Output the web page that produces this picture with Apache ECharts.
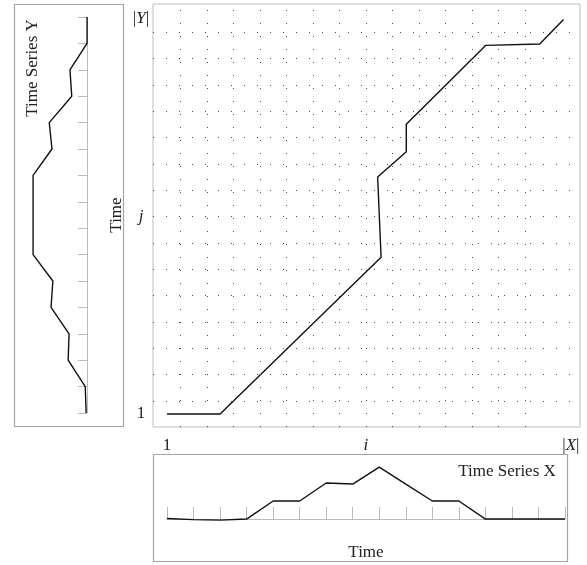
<!DOCTYPE html>
<html>
<head>
<meta charset="utf-8">
<script src="https://cdn.jsdelivr.net/npm/echarts@6/dist/echarts.min.js"></script>
<style>
html,body{margin:0;padding:0;background:#fff;}
#c{width:587px;height:565px;}
</style>
</head>
<body>
<div id="c"></div>
<script>
// ---- data ----
var timeIndex = [1,2,3,4,5,6,7,8,9,10,11,12,13,14,15,16];
var seriesX = [0.03,-0.03,-0.06,0,1.03,1.03,2.06,2.0,2.97,2.0,1.03,1.03,0,0,0,0];
var seriesY = [0.05,0.1,1.05,1.0,2.0,1.9,3.0,3.0,3.0,3.0,1.95,2.1,0.85,0.95,0,0];
var pathI = [1,3,9.07,8.94,10.02,10.02,13.02,15.05,15.95];
var pathJ = [1,1,6.95,10.0,10.96,12.0,15.0,15.05,15.98];
var gridColsI = [1.5,2.5,3.5,4.5,5.5,6.5,7.5,8.5,9.5,10.5,11.5,12.5,13.5,14.5];
var gridRowsJ = [1.5,2.5,3.5,4.5,5.5,6.5,7.5,8.5,9.5,10.5,11.5,12.5,13.5,14.5,15.5];
var xLabelValues = [1, 8.5, 16];
var xLabelRich = ['{n|1}', '{it|i}', '{n||}{it|X}{n||}'];
var yLabelValues = [1, 8.5, 16];
var yLabelTexts = ['{n|1}', '{it|j}', '{n||}{it|Y}{n||}'];

var FONT = 'Liberation Serif';
var TXT = '#222';

var pathData = pathI.map(function(v,k){ return [v, pathJ[k]]; });
var xData = timeIndex.map(function(t,k){ return [t, seriesX[k]]; });
var yData = timeIndex.map(function(t,k){ return [seriesY[k], t]; });

var rich = {
  n: {fontFamily: FONT, fontSize: 17, color: TXT},
  it: {fontFamily: FONT, fontSize: 17, fontStyle: 'italic', color: TXT}
};

var chart = echarts.init(document.getElementById('c'), null, {renderer: 'canvas'});
var option = {
  animation: false,
  backgroundColor: '#fff',
  grid: [
    {left: 153, top: 4, width: 427, height: 423, show: true, borderColor: '#bdbdbd', borderWidth: 1, backgroundColor: 'transparent'},
    {left: 14, top: 17, width: 86, height: 396},
    {left: 167, top: 455, width: 398, height: 84}
  ],
  xAxis: [
    {gridIndex: 0, type: 'value', min: 0.47, max: 16.57,
     axisLine: {show: false}, axisTick: {show: false}, splitLine: {show: false},
     axisLabel: {customValues: xLabelValues, margin: 10, fontFamily: FONT, fontSize: 17, color: TXT,
       formatter: function(v){ var k = xLabelValues.indexOf(v); if (k === 2) return '{pad|}' + xLabelRich[k]; return xLabelRich[k]; },
       rich: {n: rich.n, it: rich.it, pad: {width: 12}}}},
    {gridIndex: 1, type: 'value', inverse: true, min: -0.72, max: 4.06, show: false},
    {gridIndex: 2, type: 'value', min: 1, max: 16, interval: 1,
     axisLine: {show: true, lineStyle: {color: '#bbb', width: 1}},
     axisTick: {show: true, inside: true, length: 12, lineStyle: {color: '#bbb'}},
     axisLabel: {show: false}, splitLine: {show: false},
     name: 'Time', nameLocation: 'middle', nameGap: 5,
     nameTextStyle: {fontFamily: FONT, fontSize: 17, color: TXT}}
  ],
  yAxis: [
    {gridIndex: 0, type: 'value', min: 0.506, max: 16.57,
     axisLine: {show: false}, axisTick: {show: false}, splitLine: {show: false},
     axisLabel: {customValues: yLabelValues, margin: 12, align: 'center', fontFamily: FONT, fontSize: 17, color: TXT,
       formatter: function(v){ return yLabelTexts[yLabelValues.indexOf(v)]; },
       rich: {n: rich.n, it: rich.it}}},
    {gridIndex: 1, type: 'value', min: 1, max: 16, interval: 1, position: 'right',
     axisLine: {show: true, lineStyle: {color: '#bbb', width: 1}},
     axisTick: {show: true, inside: true, length: 9, lineStyle: {color: '#bbb'}},
     axisLabel: {show: false}, splitLine: {show: false},
     name: 'Time', nameLocation: 'middle', nameRotate: 90, nameGap: 8,
     nameTextStyle: {fontFamily: FONT, fontSize: 17, color: TXT}},
    {gridIndex: 2, type: 'value', min: -1.14, max: 3.66, show: false}
  ],
  graphic: [
    {type: 'rect', shape: {x: 14.5, y: 4.5, width: 109, height: 422}, style: {fill: 'none', stroke: '#a5a5a5', lineWidth: 1.2}, silent: true},
    {type: 'rect', shape: {x: 153.5, y: 454.5, width: 414, height: 107}, style: {fill: 'none', stroke: '#a5a5a5', lineWidth: 1.2}, silent: true},
    {type: 'text', x: 33, y: 68, rotation: Math.PI/2,
     style: {text: 'Time Series Y', font: '17px "Liberation Serif"', fill: TXT, textAlign: 'center', textVerticalAlign: 'middle'}, silent: true},
    {type: 'text', x: 507, y: 472,
     style: {text: 'Time Series X', font: '17px "Liberation Serif"', fill: TXT, textAlign: 'center', textVerticalAlign: 'middle'}, silent: true}
  ],
  series: [
    {type: 'line', xAxisIndex: 0, yAxisIndex: 0, data: [], silent: true,
     markLine: {silent: true, symbol: 'none', label: {show: false},
       lineStyle: {color: '#4a4a4a', width: 1, type: [1, 12]},
       data: gridColsI.map(function(v){ return {xAxis: v}; }).concat(gridRowsJ.map(function(v){ return {yAxis: v}; }))}},
    {type: 'line', xAxisIndex: 0, yAxisIndex: 0, data: pathData, symbol: 'none',
     lineStyle: {color: '#111', width: 1.4}},
    {type: 'line', xAxisIndex: 1, yAxisIndex: 1, data: yData, symbol: 'none',
     lineStyle: {color: '#111', width: 1.4}},
    {type: 'line', xAxisIndex: 2, yAxisIndex: 2, data: xData, symbol: 'none',
     lineStyle: {color: '#111', width: 1.4}}
  ]
};
chart.setOption(option);
</script>
</body>
</html>
